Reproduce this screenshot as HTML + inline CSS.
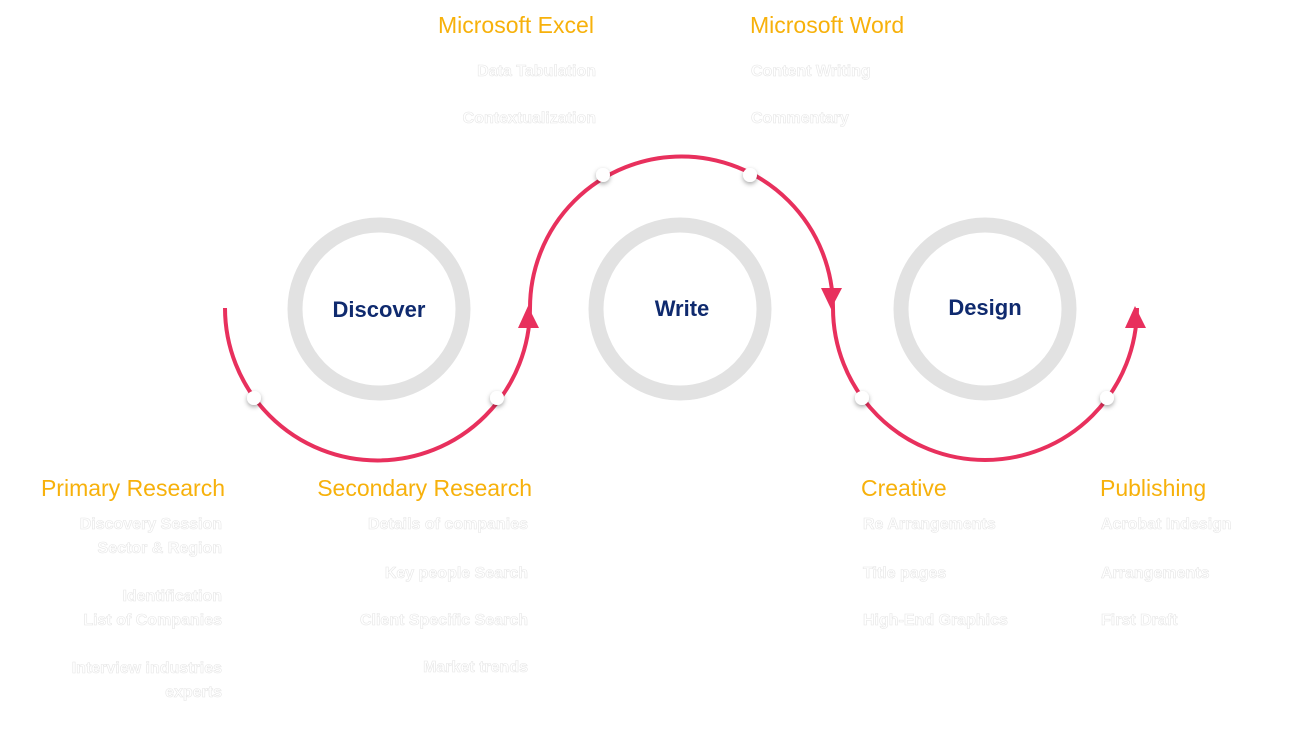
<!DOCTYPE html>
<html><head><meta charset="utf-8"><style>
html,body{margin:0;padding:0;background:#fff;}
body{width:1312px;height:756px;position:relative;overflow:hidden;font-family:"Liberation Sans",sans-serif;}
svg{position:absolute;left:0;top:0;}
.h{font-family:"Liberation Sans",sans-serif;font-size:23px;fill:#f7b10b;}
.w{font-family:"Liberation Sans",sans-serif;font-size:16px;font-weight:bold;fill:#fff;stroke:#e6e6e6;stroke-width:0.6px;}
.c{font-family:"Liberation Sans",sans-serif;font-size:22px;font-weight:bold;fill:#0f2a6e;}
</style></head><body>
<svg width="1312" height="756" viewBox="0 0 1312 756">
<defs><filter id="sh" x="-100%" y="-100%" width="300%" height="300%"><feDropShadow dx="0" dy="2" stdDeviation="2.5" flood-color="#000" flood-opacity="0.35"/></filter></defs>
<g fill="none" stroke="#e2e2e2" stroke-width="15">
<circle cx="379" cy="309" r="84"/>
<circle cx="680" cy="309" r="84"/>
<circle cx="985" cy="309" r="84"/>
</g>
<g fill="none" stroke="#e8305d" stroke-width="4">
<path d="M225 308 A152.5 152.5 0 0 0 530 308"/>
<path d="M530 308 A151.5 151.5 0 0 1 833 308"/>
<path d="M833 308 A152 152 0 0 0 1137 308"/>
</g>
<g fill="#e8305d">
<polygon points="528,306 518,328 539,328"/>
<polygon points="831,309 821,288 842,288"/>
<polygon points="1135,306 1125,328 1146,328"/>
</g>
<g fill="#fff" filter="url(#sh)">
<circle cx="254" cy="398" r="7"/><circle cx="497" cy="398" r="7"/>
<circle cx="603" cy="175" r="7"/><circle cx="750" cy="175" r="7"/>
<circle cx="862" cy="398" r="7"/><circle cx="1107" cy="398" r="7"/>
</g>
<rect x="221" y="296" width="6" height="12" fill="#fff"/>
<text class="c" x="379" y="317" text-anchor="middle">Discover</text>
<text class="c" x="682" y="316" text-anchor="middle">Write</text>
<text class="c" x="985" y="315" text-anchor="middle">Design</text>

<text class="h" x="438" y="33">Microsoft Excel</text>
<text class="h" x="750" y="33">Microsoft Word</text>
<text class="w" x="596" y="76" text-anchor="end">Data Tabulation</text>
<text class="w" x="596" y="123" text-anchor="end">Contextualization</text>
<text class="w" x="751" y="76">Content Writing</text>
<text class="w" x="751" y="123">Commentary</text>

<text class="h" x="225" y="496" text-anchor="end">Primary Research</text>
<text class="h" x="532" y="496" text-anchor="end">Secondary Research</text>
<text class="w" x="222" y="529" text-anchor="end">Discovery Session</text>
<text class="w" x="222" y="553" text-anchor="end">Sector &amp; Region</text>
<text class="w" x="222" y="601" text-anchor="end">Identification</text>
<text class="w" x="222" y="625" text-anchor="end">List of Companies</text>
<text class="w" x="222" y="673" text-anchor="end">Interview industries</text>
<text class="w" x="222" y="697" text-anchor="end">experts</text>
<text class="w" x="528" y="529" text-anchor="end">Details of companies</text>
<text class="w" x="528" y="578" text-anchor="end">Key people Search</text>
<text class="w" x="528" y="625" text-anchor="end">Client Specific Search</text>
<text class="w" x="528" y="672" text-anchor="end">Market trends</text>

<text class="h" x="861" y="496">Creative</text>
<text class="h" x="1100" y="496">Publishing</text>
<text class="w" x="863" y="529">Re Arrangements</text>
<text class="w" x="863" y="578">Title pages</text>
<text class="w" x="863" y="625">High-End Graphics</text>
<text class="w" x="1101" y="529">Acrobat Indesign</text>
<text class="w" x="1101" y="578">Arrangements</text>
<text class="w" x="1101" y="625">First Draft</text>
</svg>
</body></html>
